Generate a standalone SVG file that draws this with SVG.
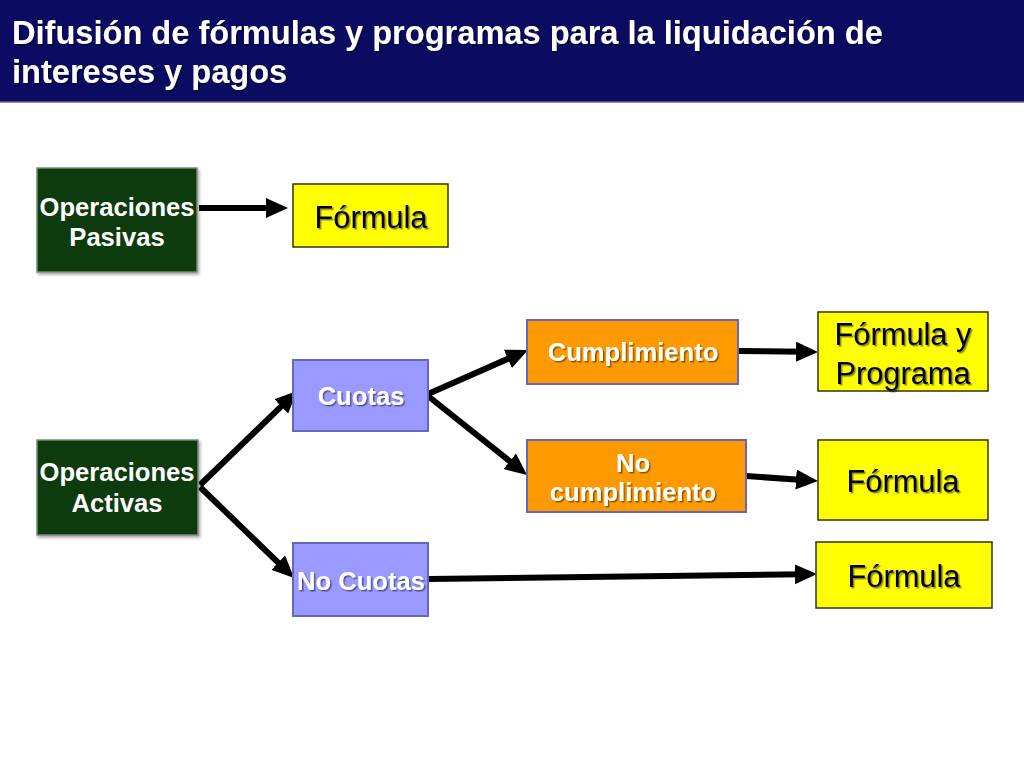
<svg xmlns="http://www.w3.org/2000/svg" width="1024" height="768" viewBox="0 0 1024 768">
<defs>
<filter id="ts" x="-10%" y="-20%" width="130%" height="160%">
<feDropShadow dx="1.5" dy="1.5" stdDeviation="0.6" flood-color="#000" flood-opacity="0.45"/>
</filter>
<filter id="bs" x="-10%" y="-10%" width="130%" height="130%">
<feDropShadow dx="1.5" dy="2" stdDeviation="1.5" flood-color="#000" flood-opacity="0.35"/>
</filter>
<marker id="ah" markerUnits="userSpaceOnUse" markerWidth="24" markerHeight="22" refX="10" refY="10" orient="auto" viewBox="0 0 24 22">
<path d="M0,0 L22,10 L0,20 z" fill="#000"/>
</marker>
</defs>
<style>
.t{font-family:"Liberation Sans",Arial,Helvetica,sans-serif;}
.title{font-size:32.6px;font-weight:bold;fill:#fff;}
.wb{font-size:25.6px;font-weight:bold;fill:#fff;text-anchor:middle;}
.yb{font-size:30.8px;fill:#000033;text-anchor:middle;}
.green{fill:#0b3a0b;stroke:#7a8a7a;stroke-width:1.5;}
.purple{fill:#9999ff;stroke:#6666bb;stroke-width:2;}
.orange{fill:#ff9900;stroke:#6666bb;stroke-width:2;}
.yellow{fill:#ffff00;stroke:#333300;stroke-width:1.5;}
.c{stroke:#000;stroke-width:6;fill:none;marker-end:url(#ah);}
</style>
<rect x="0" y="0" width="1024" height="768" fill="#fff"/>
<g id="title">
<rect x="0" y="0" width="1024" height="102" fill="#0b0b62"/>
<line x1="0" y1="102" x2="1024" y2="102" stroke="#6a6a9a" stroke-width="1.5"/>
<text class="t title" filter="url(#ts)"><tspan x="12" y="44">Difusión de fórmulas y programas para la liquidación de</tspan><tspan x="12" y="83">intereses y pagos</tspan></text>
</g>
<g id="connectors">
<line class="c" x1="199" y1="208" x2="276" y2="208"/>
<line class="c" x1="200" y1="485" x2="288.4" y2="399.4"/>
<line class="c" x1="200" y1="487" x2="285.4" y2="569.6"/>
<line class="c" x1="428" y1="394" x2="517" y2="354.8"/>
<line class="c" x1="428" y1="396" x2="517.6" y2="467.5"/>
<line class="c" x1="739" y1="351" x2="806" y2="351.8"/>
<line class="c" x1="746" y1="476" x2="806" y2="480.2"/>
<line class="c" x1="428" y1="579" x2="805" y2="574.2"/>
</g>
<g id="op-pasivas">
<rect class="green" x="37" y="168" width="160" height="104" filter="url(#bs)"/>
<text class="t wb"><tspan x="117" y="216">Operaciones</tspan><tspan x="117" y="246">Pasivas</tspan></text>
</g>
<g id="formula-1">
<rect class="yellow" x="293" y="184" width="155" height="63"/>
<text class="t yb" x="371" y="228" filter="url(#ts)">Fórmula</text>
</g>
<g id="op-activas">
<rect class="green" x="37" y="440" width="161" height="95" filter="url(#bs)"/>
<text class="t wb"><tspan x="117" y="481">Operaciones</tspan><tspan x="117" y="512">Activas</tspan></text>
</g>
<g id="cuotas">
<rect class="purple" x="293" y="360" width="135" height="71"/>
<text class="t wb" x="361" y="405" filter="url(#ts)">Cuotas</text>
</g>
<g id="no-cuotas">
<rect class="purple" x="293" y="543" width="135" height="73"/>
<text class="t wb" x="361" y="590" filter="url(#ts)">No Cuotas</text>
</g>
<g id="cumplimiento">
<rect class="orange" x="527" y="320" width="211" height="64"/>
<text class="t wb" x="633" y="361" filter="url(#ts)">Cumplimiento</text>
</g>
<g id="no-cumplimiento">
<rect class="orange" x="527" y="440" width="219" height="72"/>
<text class="t wb" filter="url(#ts)"><tspan x="633" y="472">No</tspan><tspan x="633" y="501">cumplimiento</tspan></text>
</g>
<g id="formula-programa">
<rect class="yellow" x="818" y="312" width="170" height="79"/>
<text class="t yb" filter="url(#ts)"><tspan x="903" y="345">Fórmula y</tspan><tspan x="903" y="384">Programa</tspan></text>
</g>
<g id="formula-2">
<rect class="yellow" x="818" y="440" width="170" height="80"/>
<text class="t yb" x="903" y="492" filter="url(#ts)">Fórmula</text>
</g>
<g id="formula-3">
<rect class="yellow" x="816" y="542" width="176" height="66"/>
<text class="t yb" x="904" y="587" filter="url(#ts)">Fórmula</text>
</g>
</svg>
